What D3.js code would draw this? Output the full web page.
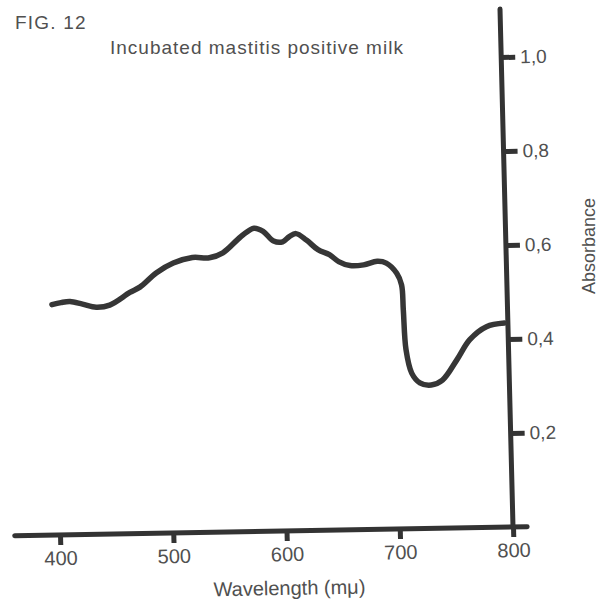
<!DOCTYPE html>
<html>
<head>
  <script src="https://cdn.jsdelivr.net/npm/d3@7"></script>
  <style type="text/css">
    body { margin: 0; background: #fff; }
    svg text { font-family: "Liberation Sans", Arial, sans-serif; fill: #505050; }
    .axis .domain { display: none; }
    .axis line { stroke: #333; stroke-width: 5px; }
    .axis text { font-size: 19px; }
  </style>
</head>
<body>
<svg id="chart" width="606" height="605"></svg>

<script type="text/javascript">
// wavelength (m\u03bc) and absorbance
const wavelength = [398, 406, 414, 425, 437, 449, 467, 476, 491, 506, 523, 538, 550, 563, 568, 578,
  586, 595, 603, 609, 615, 624, 634, 644, 652, 662, 674, 686, 694, 703, 707, 708, 709.5, 714,
  721, 731, 741, 754, 766, 781, 797];
const absorbance = [0.490, 0.494, 0.496, 0.490, 0.483, 0.487, 0.513, 0.524, 0.554, 0.574, 0.585, 0.584,
  0.594, 0.621, 0.631, 0.645, 0.638, 0.617, 0.615, 0.626, 0.632, 0.618, 0.597, 0.586, 0.571, 0.562,
  0.563, 0.570, 0.566, 0.544, 0.519, 0.466, 0.381, 0.331, 0.310, 0.305, 0.315, 0.357, 0.400, 0.427, 0.434];

const xTicks = [400, 500, 600, 700, 800];
const yTicks = [0.2, 0.4, 0.6, 0.8, 1.0];

const svg = d3.select('#chart');

const x = d3.scaleLinear().domain([400, 800]).range([60, 513]);
const y = d3.scaleLinear().domain([0, 1]).range([527, 57]);

// the scan is slightly skewed, so the whole plot is too
const plot = svg.append('g')
  .attr('transform', 'translate(513,527) matrix(1,-0.0175,0.0251,1,0,0) translate(-513,-527)');

// axis lines
plot.append('line')
  .attr('x1', x(360)).attr('x2', x(812.5))
  .attr('y1', y(0)).attr('y2', y(0))
  .attr('stroke', '#333').attr('stroke-width', 5).attr('stroke-linecap', 'round');
plot.append('line')
  .attr('x1', x(800)).attr('x2', x(800))
  .attr('y1', y(0)).attr('y2', y(1.102))
  .attr('stroke', '#333').attr('stroke-width', 5).attr('stroke-linecap', 'round');

plot.append('g')
  .attr('class', 'axis')
  .attr('transform', `translate(0,${y(0)})`)
  .call(d3.axisBottom(x).tickValues(xTicks).tickSize(10).tickPadding(6).tickSizeOuter(0))
  .selectAll('text').style('font-size', '20px');

plot.append('g')
  .attr('class', 'axis')
  .attr('transform', `translate(${x(800)},0)`)
  .call(d3.axisRight(y).tickValues(yTicks).tickSize(14).tickPadding(5).tickSizeOuter(0)
    .tickFormat(d => d3.format('.1f')(d).replace('.', ',')));

// curve
const pts = wavelength.map((w, i) => [w, absorbance[i]]);
const line = d3.line()
  .x(d => x(d[0]))
  .y(d => y(d[1]))
  .curve(d3.curveCatmullRom.alpha(0.5));

plot.append('path')
  .datum(pts)
  .attr('d', line)
  .attr('fill', 'none')
  .attr('stroke', '#363636')
  .attr('stroke-width', 5.5)
  .attr('stroke-linecap', 'round')
  .attr('stroke-linejoin', 'round');

// axis titles
plot.append('text')
  .attr('x', 288).attr('y', 591)
  .attr('text-anchor', 'middle')
  .style('font-size', '20px')
  .text('Wavelength (m\u03bc)');

svg.append('text')
  .attr('transform', 'translate(595,246) rotate(-90)')
  .attr('text-anchor', 'middle')
  .style('font-size', '18px')
  .text('Absorbance');

// headings
svg.append('text')
  .attr('x', 15).attr('y', 29)
  .style('font-size', '19px')
  .style('letter-spacing', '1.2px')
  .text('FIG. 12');

svg.append('text')
  .attr('x', 110).attr('y', 54)
  .style('font-size', '19px')
  .style('letter-spacing', '1px')
  .text('Incubated mastitis positive milk');
</script>
</body>
</html>
